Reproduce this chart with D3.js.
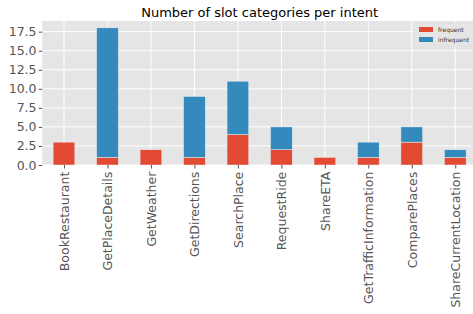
<!DOCTYPE html>
<html>
<head>
<meta charset="utf-8">
<script src="https://cdn.jsdelivr.net/npm/d3@7"></script>
<style>
body { margin: 0; background: #fff; }
svg { display: block; font-family: "DejaVu Sans", sans-serif; }
</style>
</head>
<body>
<svg id="chart" width="473" height="314"></svg>
<script>
// data
var intents = ["BookRestaurant", "GetPlaceDetails", "GetWeather", "GetDirections", "SearchPlace",
	"RequestRide", "ShareETA", "GetTrafficInformation", "ComparePlaces", "ShareCurrentLocation"];
var frequent = [3, 1, 2, 1, 4, 2, 1, 1, 3, 1];
var infrequent = [0, 17, 0, 8, 7, 3, 0, 2, 2, 1];
var yTicks = [0, 2.5, 5, 7.5, 10, 12.5, 15, 17.5];
var seriesNames = ["frequent", "infrequent"];
var colors = ["#E24A33", "#348ABD"];

var plotL = 42.25, plotR = 477, plotT = 21, plotB = 165;
var svg = d3.select("#chart");

var x = d3.scaleLinear().domain([-0.5, intents.length - 0.5]).range([plotL, plotR]);
var maxVal = d3.max(intents, function(d, i) { return frequent[i] + infrequent[i]; });
var y = d3.scaleLinear().domain([0, maxVal * 1.05]).range([plotB, plotT]);

svg.append("rect").attr("x", plotL).attr("y", plotT).attr("width", plotR - plotL).attr("height", plotB - plotT).attr("fill", "#E5E5E5");

// grid
svg.append("g").selectAll("line").data(yTicks).enter().append("line")
	.attr("x1", plotL).attr("x2", plotR)
	.attr("y1", function(d) { return y(d); }).attr("y2", function(d) { return y(d); })
	.attr("stroke", "#fff").attr("stroke-width", 1);
svg.append("g").selectAll("line").data(intents).enter().append("line")
	.attr("y1", plotT).attr("y2", plotB)
	.attr("x1", function(d, i) { return x(i); }).attr("x2", function(d, i) { return x(i); })
	.attr("stroke", "#fff").attr("stroke-width", 1);

// stacked bars
var rows = intents.map(function(d, i) { return { name: d, i: i, frequent: frequent[i], infrequent: infrequent[i] }; });
var stack = d3.stack().keys(seriesNames)(rows);
var bw = x(0.25) - x(-0.25);
svg.append("g").selectAll("g").data(stack).enter().append("g")
	.attr("fill", function(d, k) { return colors[k]; })
	.selectAll("rect").data(function(d) { return d.filter(function(s) { return s[1] > s[0]; }); }).enter().append("rect")
	.attr("x", function(d) { return x(d.data.i) - bw / 2; })
	.attr("width", bw)
	.attr("y", function(d) { return y(d[1]); })
	.attr("height", function(d) { return y(d[0]) - y(d[1]); })
	.attr("stroke", "#EEEEEE").attr("stroke-width", 0.5);

// y axis
var yAxis = svg.append("g").attr("transform", "translate(" + plotL + ",0)")
	.call(d3.axisLeft(y).tickValues(yTicks).tickFormat(d3.format(".1f")).tickSize(3.5).tickPadding(2.2));
yAxis.select(".domain").remove();
yAxis.selectAll("line").attr("stroke", "#555");
yAxis.selectAll("text").attr("fill", "#555").attr("font-size", "12.5px").attr("font-family", "DejaVu Sans");

// x axis
var xAxis = svg.append("g").attr("transform", "translate(0," + plotB + ")")
	.call(d3.axisBottom(x).tickValues(d3.range(intents.length)).tickFormat(function(i) { return intents[i]; }).tickSize(3.5));
xAxis.select(".domain").remove();
xAxis.selectAll("line").attr("stroke", "#555");
xAxis.selectAll("text").attr("fill", "#555").attr("font-size", "12.5px").attr("font-family", "DejaVu Sans")
	.attr("transform", "rotate(-90)").attr("text-anchor", "end")
	.attr("x", -6.7).attr("y", 0).attr("dy", "0.35em");

// title
svg.append("text").attr("x", (plotL + plotR) / 2).attr("y", 17).attr("text-anchor", "middle")
	.attr("font-size", "13px").attr("fill", "#000").text("Number of slot categories per intent");

// legend
var lg = svg.append("g").attr("transform", "translate(414,23)");
lg.append("rect").attr("x", 0).attr("y", 0).attr("width", 62).attr("height", 23).attr("rx", 2)
	.attr("fill", "#E5E5E5").attr("stroke", "#ddd").attr("stroke-width", 0.5);
seriesNames.forEach(function(name, k) {
	lg.append("rect").attr("x", 5).attr("y", 4 + k * 10).attr("width", 14).attr("height", 5).attr("fill", colors[k]);
	lg.append("text").attr("x", 24).attr("y", 9 + k * 10).attr("font-size", "6px").attr("fill", "#333").text(name);
});
</script>
</body>
</html>
